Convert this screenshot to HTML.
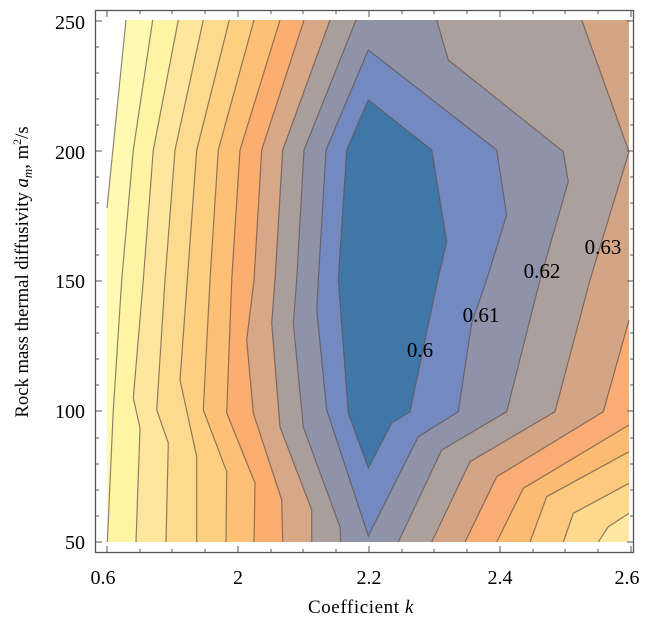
<!DOCTYPE html>
<html><head><meta charset="utf-8"><style>
html,body{margin:0;padding:0;background:#fff;}
svg{display:block;font-family:"Liberation Serif",serif;}
</style></head><body>
<svg width="656" height="621" viewBox="0 0 656 621" xmlns="http://www.w3.org/2000/svg">
<defs>
<linearGradient id="g0" x1="0" x2="1" y1="0" y2="0"><stop offset="0" stop-color="#ffffff"/><stop offset="1" stop-color="#fffbd8"/></linearGradient>
</defs>
<g stroke="none">
<rect x="107" y="20" width="522" height="522" fill="url(#g0)"/>
<polygon fill="#fffab2" points="126,20 107,208 107,542 629,542 629,20"/>
<polygon fill="#fff3a4" points="152.7,20 133.3,150 121.7,280 113.3,410 107.3,542 629,542 629,20"/>
<polygon fill="#fee79c" points="178.3,20 153.3,150 143.3,280 133.3,398 140,428 136,542 629,542 629,20"/>
<polygon fill="#fddb8e" points="203.3,20 175,150 165,280 156.7,410 168.3,443 166,542 629,542 629,20"/>
<polygon fill="#fdcf80" points="229.3,20 196.7,150 187.3,280 180,380 196.7,456.7 196.7,542 629,542 629,20"/>
<polygon fill="#fdc074" points="254,20 218.3,150 210,280 203.3,410 226.7,471.7 226,542 629,542 629,20"/>
<polygon fill="#fbae70" points="280,20 240,150 231.7,280 226.7,413 255,483 254,542 629,542 629,20"/>
<polygon fill="#d8a886" points="304,20 261.7,150 254,280 246.7,340 253.3,413 281.7,500 282.7,542 629,542 629,20"/>
<polygon fill="#aa9e9d" points="330,20 282.7,150 275,280 271.7,323 280,427 311.7,510 311.7,542 629,542 629,20"/>
<polygon fill="#8f93a9" points="356,20 304,150 296.7,280 293.3,323 303.3,427 340,527 340.7,542 629,542 629,20"/>
<polygon fill="#aca09d" points="436.7,20 448.3,60 563.3,151.7 568.3,181.7 540,280 506.7,411.7 441.7,450 398.3,542 629,542 629,20"/>
<polygon fill="#d4a585" points="581.7,20 629,20 629,542 431.7,542 470,461.7 555,411.7 590,280 629,151.7"/>
<polygon fill="#f9ac74" points="629,320 603.3,411.7 496.7,476.7 465,542 629,542"/>
<polygon fill="#fbbb72" points="629,425 523.3,488.3 496.7,542 629,542"/>
<polygon fill="#fcca7e" points="629,451.7 546.7,496.7 530,542 629,542"/>
<polygon fill="#fdd98e" points="629,483.3 573.3,513.3 563.3,542 629,542"/>
<polygon fill="#fee8a2" points="629,513.3 608.3,526.7 598.3,542 629,542"/>
<polygon fill="#7389bf" points="368.3,50 496.7,150 506.7,215 485,285 471.7,323 458.3,411.7 418.3,436.7 368.3,536 326.7,410 316.7,310 318.3,280 326,150"/>
<polygon fill="#3f77a9" points="368.3,100 431.7,150 446.7,241.7 437,283 410,411.7 391.7,423 368.3,468 348.3,413 338.3,280 346.7,150"/>
</g>
<g fill="none" stroke="rgba(95,80,75,0.7)" stroke-width="1.2">
<polyline points="126,20 107,208"/>
<polyline points="152.7,20 133.3,150 121.7,280 113.3,410 107.3,542"/>
<polyline points="178.3,20 153.3,150 143.3,280 133.3,398 140,428 136,542"/>
<polyline points="203.3,20 175,150 165,280 156.7,410 168.3,443 166,542"/>
<polyline points="229.3,20 196.7,150 187.3,280 180,380 196.7,456.7 196.7,542"/>
<polyline points="254,20 218.3,150 210,280 203.3,410 226.7,471.7 226,542"/>
<polyline points="280,20 240,150 231.7,280 226.7,413 255,483 254,542"/>
<polyline points="304,20 261.7,150 254,280 246.7,340 253.3,413 281.7,500 282.7,542"/>
<polyline points="330,20 282.7,150 275,280 271.7,323 280,427 311.7,510 311.7,542"/>
<polyline points="356,20 304,150 296.7,280 293.3,323 303.3,427 340,527 340.7,542"/>
<polyline points="436.7,20 448.3,60 563.3,151.7 568.3,181.7 540,280 506.7,411.7 441.7,450 398.3,542"/>
<polyline points="581.7,20 629,151.7 590,280 555,411.7 470,461.7 431.7,542"/>
<polyline points="629,320 603.3,411.7 496.7,476.7 465,542"/>
<polyline points="629,425 523.3,488.3 496.7,542"/>
<polyline points="629,451.7 546.7,496.7 530,542"/>
<polyline points="629,483.3 573.3,513.3 563.3,542"/>
<polyline points="629,513.3 608.3,526.7 598.3,542"/>
<polygon points="368.3,50 496.7,150 506.7,215 485,285 471.7,323 458.3,411.7 418.3,436.7 368.3,536 326.7,410 316.7,310 318.3,280 326,150"/>
<polygon points="368.3,100 431.7,150 446.7,241.7 437,283 410,411.7 391.7,423 368.3,468 348.3,413 338.3,280 346.7,150"/>
</g>
<g font-size="21" fill="#000" text-anchor="middle">
<text x="420" y="357">0.6</text>
<text x="481" y="322">0.61</text>
<text x="542" y="278">0.62</text>
<text x="603" y="254">0.63</text>
</g>
<rect x="95.5" y="10.5" width="538" height="542" fill="none" stroke="#555" stroke-width="1.3"/>
<g stroke="#555" stroke-width="1">
<path d="M107,553v-7M140,553v-4M172,553v-4M205,553v-4M238,553v-7M271,553v-4M303,553v-4M336,553v-4M369,553v-7M402,553v-4M434,553v-4M467,553v-4M500,553v-7M533,553v-4M565,553v-4M598,553v-4M631,553v-7"/>
<path d="M107,10v7M140,10v4M172,10v4M205,10v4M238,10v7M271,10v4M303,10v4M336,10v4M369,10v7M402,10v4M434,10v4M467,10v4M500,10v7M533,10v4M565,10v4M598,10v4M631,10v7"/>
<path d="M95,542h7M95,516h4M95,490h4M95,464h4M95,438h4M95,411h7M95,385h4M95,359h4M95,333h4M95,307h4M95,281h7M95,255h4M95,229h4M95,203h4M95,177h4M95,151h7M95,125h4M95,99h4M95,73h4M95,47h4M95,21h7"/>
<path d="M634,542h-7M634,516h-4M634,490h-4M634,464h-4M634,438h-4M634,411h-7M634,385h-4M634,359h-4M634,333h-4M634,307h-4M634,281h-7M634,255h-4M634,229h-4M634,203h-4M634,177h-4M634,151h-7M634,125h-4M634,99h-4M634,73h-4M634,47h-4M634,21h-7"/>
</g>
<g font-size="20" fill="#000" text-anchor="end">
<text x="85" y="549">50</text>
<text x="85" y="418">100</text>
<text x="85" y="288">150</text>
<text x="85" y="159">200</text>
<text x="85" y="29">250</text>
</g>
<g font-size="20" fill="#000" text-anchor="middle">
<text x="103" y="584">0.6</text>
<text x="238" y="584">2</text>
<text x="369" y="584">2.2</text>
<text x="500" y="584">2.4</text>
<text x="627" y="584">2.6</text>
</g>
<text x="361" y="613" font-size="19" letter-spacing="0.6" text-anchor="middle">Coefficient <tspan font-style="italic">k</tspan></text>
<text transform="translate(28,272) rotate(-90)" font-size="18.7" text-anchor="middle">Rock mass thermal diffusivity <tspan font-style="italic">a</tspan><tspan font-style="italic" font-size="13" dy="4">m</tspan><tspan dy="-4">, m</tspan><tspan font-size="12" dy="-7">2</tspan><tspan dy="7">/s</tspan></text>
</svg>
</body></html>
